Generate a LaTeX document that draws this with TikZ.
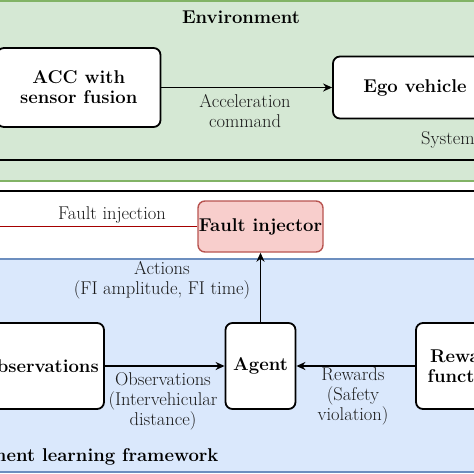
\documentclass[tikz,border=0pt]{standalone}
\usepackage{xcolor}
\usetikzlibrary{arrows.meta}
\definecolor{envgreen}{HTML}{D5E8D4}
\definecolor{envline}{HTML}{82B366}
\definecolor{rlblue}{HTML}{DAE8FC}
\definecolor{rlline}{HTML}{6C8EBF}
\definecolor{fifill}{HTML}{F8CECC}
\definecolor{filine}{HTML}{B85450}
\definecolor{fired}{HTML}{A50000}
\definecolor{lblgray}{HTML}{1A1A1A}

\begin{document}
\begin{tikzpicture}[x=1pt, y=-1pt,
    box/.style={draw, rounded corners=7pt, line width=1.8pt, fill=white, align=center, inner sep=0pt,
      font=\bfseries\fontsize{18.5}{20}\selectfont},
    lbl/.style={align=center, text=lblgray, inner sep=0pt, font=\fontsize{18.5}{20}\selectfont},
    flow/.style={-{Stealth[length=9pt,width=8pt]}, line width=1.6pt}]
    \useasboundingbox (0,0) rectangle (474,474);
    \clip (0,0) rectangle (474,474);

    % containers
    \fill[white] (0,0) rectangle (474,474);
    \draw[fill=envgreen, draw=envline, line width=2pt] (-20,1) rectangle (500,181);
    \draw[line width=1.5pt] (-20,-20) rectangle (520,160);
    \draw[fill=white, line width=1.5pt] (-20,191) rectangle (520,560);
    \draw[fill=rlblue, draw=rlline, line width=2pt] (-20,258.7) rectangle (520,472);

    \node[font=\bfseries\fontsize{18.5}{20}\selectfont] (env) at (241,17) {Environment};
    \node[lbl, anchor=west] (sys) at (421,140) {System};
    \node[font=\bfseries\fontsize{18.5}{20}\selectfont, anchor=east] (rl) at (222,457) {Reinforcement learning framework};

    % blocks
    \node[box, minimum width=163.5pt, minimum height=79pt] (acc) at (78.75,87.5) {ACC with\\sensor fusion};
    \node[box, minimum width=164pt, minimum height=62pt] (ego) at (415,87.5) {Ego vehicle};
    \node[box, fill=fifill, draw=filine, line width=1.4pt, minimum width=125pt, minimum height=51pt] (fi) at (260.5,226.5) {Fault injector};
    \node[box, minimum width=70pt, minimum height=86pt] (agent) at (260.5,366) {Agent};
    \node[box, minimum width=128pt, minimum height=86pt] (obs) at (40,366) {Observations};
    \node[box, minimum width=98pt, minimum height=86pt] (rew) at (465,366) {Reward\\function};
    \coordinate (fiend) at (-10,226.5);

    % connectors
    \draw[flow] (acc) -- (ego);
    \draw[fired, line width=1.3pt] (fi) -- (fiend);
    \draw[flow] (agent) -- (fi);
    \draw[flow] (obs) -- (agent);
    \draw[flow] (rew) -- (agent);

    % labels
    \node[lbl] (acclbl) at (245,111) {Acceleration\\command};
    \node[lbl] (filbl) at (112,215) {Fault injection};
    \node[lbl] (actlbl) at (162,280.5) {Actions\\(FI amplitude, FI time)};
    \node[lbl] (obslbl) at (163,401) {Observations\\(Intervehicular\\distance)};
    \node[lbl] (rewlbl) at (353,396) {Rewards\\(Safety\\violation)};
\end{tikzpicture}
\end{document}
